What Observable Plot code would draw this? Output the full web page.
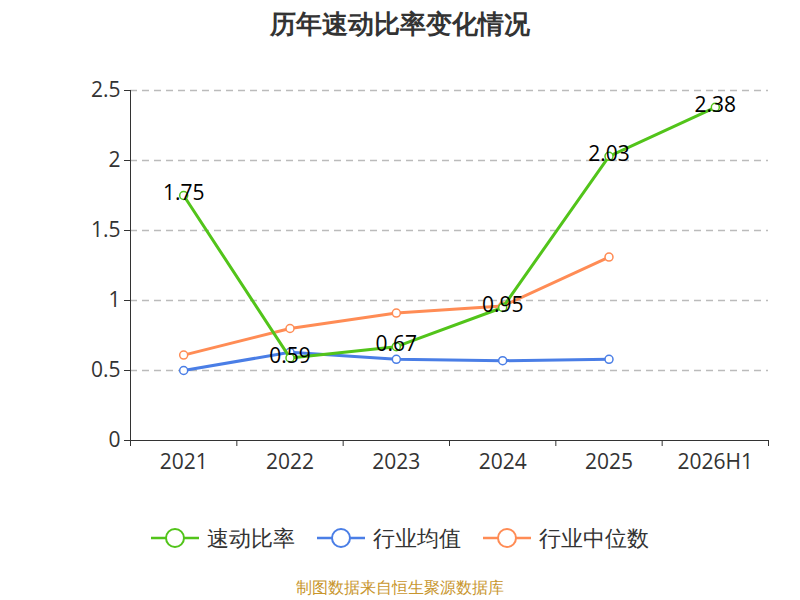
<!DOCTYPE html>
<html><head><meta charset="utf-8">
<script src="https://cdn.jsdelivr.net/npm/d3@7"></script>
<script src="https://cdn.jsdelivr.net/npm/@observablehq/plot@0.6"></script>
<style>
body{margin:0;width:800px;font-family:"Open Sans",sans-serif;background:#fff}
#title{height:50px;line-height:46px;text-align:center;font-size:26px;font-weight:bold;color:#333}
#legend{display:flex;justify-content:center;gap:22px;margin-top:22px;font-size:22px;color:#333}
#legend span{display:flex;align-items:center;gap:8px}
#cap{text-align:center;color:#c8962e;font-size:16px;margin-top:22px}
</style></head><body>
<div id="title">历年速动比率变化情况</div>
<div id="chart"></div>
<div id="legend"></div>
<div id="cap">制图数据来自恒生聚源数据库</div>
<script>
const categories=["2021","2022","2023","2024","2025","2026H1"];
const quick=[1.75,0.59,0.67,0.95,2.03,2.38];
const industryAvg=[0.50,0.63,0.58,0.57,0.58];
const industryMed=[0.61,0.80,0.91,0.96,1.31];
const yTicks=[0,0.5,1,1.5,2,2.5];
const series=[
 {name:"速动比率",color:"#52c41a",vals:quick},
 {name:"行业均值",color:"#4a7ee6",vals:industryAvg},
 {name:"行业中位数",color:"#ff8c55",vals:industryMed}];
const rows=series.flatMap(s=>s.vals.map((v,i)=>({s:s.name,c:s.color,x:i+0.5,y:v})));
const green=rows.filter(r=>r.s==="速动比率");
const ord=[1,2,0];
const chart=Plot.plot({
 width:800,height:450,marginTop:40,marginBottom:60,marginLeft:130,marginRight:32,
 style:{fontFamily:"Open Sans",fontSize:"21px",color:"#333"},
 x:{domain:[0,6],axis:null},
 y:{domain:[0,2.5],axis:null},
 marks:[
  Plot.gridY(yTicks.slice(1),{stroke:"#bbb",strokeOpacity:1,strokeDasharray:"7,5",strokeWidth:1.3}),
  Plot.ruleX([0],{stroke:"#333"}),
  Plot.ruleY([0],{stroke:"#333"}),
  Plot.axisY(yTicks,{tickSize:6,stroke:"#333",fontSize:21,tickPadding:4,label:null,tickFormat:d=>String(d)}),
  Plot.axisX(d3.range(0,7),{tickSize:6,stroke:"#333",label:null,tickFormat:()=>""}),
  Plot.axisX(categories.map((_,i)=>i+0.5),{tickSize:0,tickPadding:14,fontSize:21,label:null,tickFormat:d=>categories[d-0.5]}),
  ...ord.map(k=>{const s=series[k];const d=rows.filter(r=>r.s===s.name);return [
   Plot.line(d,{x:"x",y:"y",stroke:s.color,strokeWidth:3}),
   Plot.dot(d,{x:"x",y:"y",r:4,fill:"#fff",stroke:s.color,strokeWidth:1.5})]}),
  Plot.text(green,{x:"x",y:"y",dy:-2,text:d=>d.y.toFixed(2),fontSize:21,fill:"#000"})
 ]});
document.getElementById("chart").append(chart);
const lg=document.getElementById("legend");
series.forEach(s=>{const e=document.createElement("span");
 e.innerHTML=`<svg width="48" height="24"><line x1="0" y1="12" x2="48" y2="12" stroke="${s.color}" stroke-width="2.5"/><circle cx="24" cy="12" r="9" fill="#fff" stroke="${s.color}" stroke-width="2"/></svg>${s.name}`;lg.append(e);});
</script></body></html>
